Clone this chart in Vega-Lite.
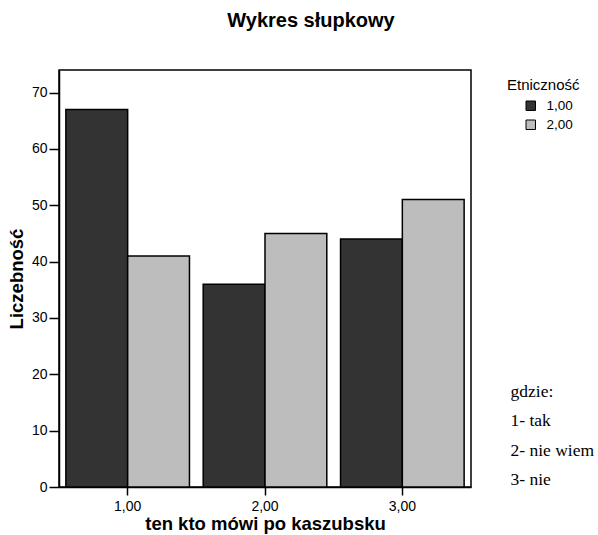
{
  "$schema": "https://vega.github.io/schema/vega-lite/v6.json",
  "autosize": {"type": "none"},
  "padding": {"left": 59, "top": 70, "right": 127, "bottom": 48},
  "width": 412,
  "height": 417,
  "background": "white",
  "title": {
    "text": "Wykres słupkowy",
    "font": "Liberation Sans",
    "fontSize": 20,
    "fontWeight": "bold",
    "color": "black",
    "anchor": "middle",
    "dx": 46,
    "offset": 39
  },
  "config": {
    "view": {"stroke": "black", "strokeWidth": 1.5},
    "axis": {
      "labelFont": "Liberation Sans",
      "titleFont": "Liberation Sans",
      "labelColor": "black",
      "titleColor": "black",
      "domainColor": "black",
      "tickColor": "black",
      "grid": false
    },
    "legend": {
      "labelFont": "Liberation Sans",
      "titleFont": "Liberation Sans"
    }
  },
  "layer": [
    {
      "data": {
        "values": [
          {"kategoria": "1,00", "etn": "1,00", "liczebnosc": 67},
          {"kategoria": "1,00", "etn": "2,00", "liczebnosc": 41},
          {"kategoria": "2,00", "etn": "1,00", "liczebnosc": 36},
          {"kategoria": "2,00", "etn": "2,00", "liczebnosc": 45},
          {"kategoria": "3,00", "etn": "1,00", "liczebnosc": 44},
          {"kategoria": "3,00", "etn": "2,00", "liczebnosc": 51}
        ]
      },
      "mark": {"type": "bar", "stroke": "black", "strokeWidth": 1.5, "opacity": 1},
      "encoding": {
        "x": {
          "field": "kategoria",
          "type": "nominal",
          "scale": {"paddingInner": 0.1, "paddingOuter": 0.05},
          "axis": {
            "title": "ten kto mówi po kaszubsku",
            "titleFontSize": 18.5,
            "titleFontWeight": "bold",
            "titlePadding": 1,
            "labelAngle": 0,
            "labelFontSize": 14,
            "tickSize": 8,
            "tickWidth": 1.5,
            "domainWidth": 1.5,
            "labelPadding": 4
          }
        },
        "xOffset": {"field": "etn", "type": "nominal"},
        "y": {
          "field": "liczebnosc",
          "type": "quantitative",
          "scale": {"domain": [0, 74], "nice": false},
          "axis": {
            "title": "Liczebność",
            "titleFontSize": 18.5,
            "titleFontWeight": "bold",
            "titlePadding": 5,
            "values": [0, 10, 20, 30, 40, 50, 60, 70],
            "labelFontSize": 14,
            "tickSize": 10,
            "tickWidth": 1.5,
            "domainWidth": 1.5,
            "labelPadding": 2
          }
        },
        "color": {
          "field": "etn",
          "type": "nominal",
          "scale": {"domain": ["1,00", "2,00"], "range": ["#333333", "#bdbdbd"]},
          "legend": {
            "title": "Etniczność",
            "orient": "none",
            "legendX": 448,
            "legendY": 8,
            "titleFontSize": 15,
            "titleFontWeight": "normal",
            "titleColor": "black",
            "titlePadding": 6,
            "labelFontSize": 13.5,
            "labelColor": "black",
            "symbolType": "square",
            "symbolSize": 90,
            "symbolStrokeColor": "black",
            "symbolStrokeWidth": 1,
            "symbolOffset": 17,
            "rowPadding": 4,
            "labelOffset": 9
          }
        }
      }
    },
    {
      "data": {
        "values": [
          {"note": "gdzie:"},
          {"note": "1- tak"},
          {"note": "2- nie wiem"},
          {"note": "3- nie"}
        ]
      },
      "mark": {"type": "point", "opacity": 0},
      "encoding": {
        "shape": {
          "field": "note",
          "type": "nominal",
          "scale": {"domain": ["gdzie:", "1- tak", "2- nie wiem", "3- nie"], "range": ["square", "square", "square", "square"]},
          "legend": {
            "title": null,
            "orient": "none",
            "legendX": 434,
            "legendY": 313,
            "labelFont": "Liberation Serif",
            "labelFontSize": 17.5,
            "labelColor": "black",
            "labelLimit": 200,
            "symbolSize": 0,
            "symbolOpacity": 0,
            "symbolStrokeWidth": 0,
            "labelOffset": 0,
            "rowPadding": 10.5
          }
        }
      }
    }
  ]
}
